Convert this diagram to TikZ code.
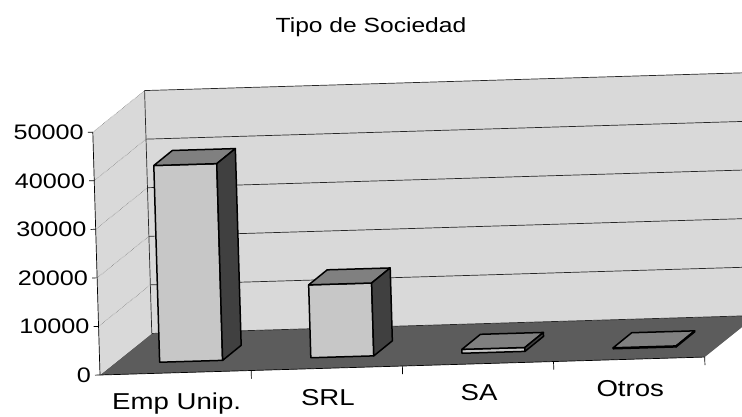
\documentclass[tikz,border=0pt]{standalone}
\usepackage{fontspec}
\setmainfont{Liberation Sans}
\definecolor{pared}{gray}{0.85}
\definecolor{piso}{gray}{0.36}
\definecolor{frente}{gray}{0.78}
\definecolor{tapa}{gray}{0.5}
\definecolor{lado}{gray}{0.25}
\newcommand{\ancho}[1]{\scalebox{1.2}[1]{#1}}
\newcommand{\barra}[2]{%
\filldraw[borde,fill=frente] (#1+15,11) rectangle (#1+78,11+#2);
\filldraw[borde,fill=tapa] (#1+15,11+#2) -- (#1+78,11+#2) -- (#1+97,25.5+#2) -- (#1+34,25.5+#2) -- cycle;
\filldraw[borde,fill=lado] (#1+78,11) -- (#1+97,25.5) -- (#1+97,25.5+#2) -- (#1+78,11+#2) -- cycle;
}

\begin{document}
\begin{tikzpicture}[x=1pt,y=1pt,
  borde/.style={draw=black,line width=1.5pt,line join=round},
  rejilla/.style={black!85,line width=0.7pt},
  rejillaizq/.style={black!55,line width=0.5pt,densely dotted},
  eje/.style={black,line width=0.7pt},
  valor/.style={font=\fontsize{21}{23}\selectfont,anchor=east,inner sep=0pt},
  categoria/.style={font=\fontsize{23}{25}\selectfont,anchor=base,inner sep=0pt}]
\useasboundingbox (0,0) rectangle (742,416);
\clip (0,0) rectangle (742,416);
\node (titulo) at (371,383) [anchor=base,font=\fontsize{20.5}{22}\selectfont]{\ancho{Tipo de Sociedad}};

\begin{scope}[shift={(100,41)},rotate=1.7]
% piso y paredes
\fill[piso] (0,0) -- (605,0) -- (658,40) -- (53,40) -- cycle;
\fill[pared] (0,0) -- (0,243) -- (53,283) -- (53,40) -- cycle;
\fill[pared] (53,40) -- (53,283) -- (658,283) -- (658,40) -- cycle;

% lineas de division
\draw[rejillaizq] (0,48.6) -- (53,88.6);
\draw[rejillaizq] (0,97.2) -- (53,137.2);
\draw[rejillaizq] (0,145.8) -- (53,185.8);
\draw[rejillaizq] (0,194.4) -- (53,234.4);
\draw[rejillaizq] (0,243) -- (53,283);
\draw[rejilla] (53,40) -- (658,40);
\draw[rejilla] (53,88.6) -- (658,88.6);
\draw[rejilla] (53,137.2) -- (658,137.2);
\draw[rejilla] (53,185.8) -- (658,185.8);
\draw[rejilla] (53,234.4) -- (658,234.4);
\draw[rejilla] (53,283) -- (658,283);
\draw[rejilla] (53,40) -- (53,283);

% barras
\barra{45}{196.8}
\barra{196.25}{72.9}
\barra{347.5}{3.9}
\barra{498.75}{1}

% ejes
\draw[eje] (0,0) -- (0,243);
\draw[eje] (0,0) -- (605,0);
\draw[eje] (-5,0) -- (0,0);
\draw[eje] (-5,48.6) -- (0,48.6);
\draw[eje] (-5,97.2) -- (0,97.2);
\draw[eje] (-5,145.8) -- (0,145.8);
\draw[eje] (-5,194.4) -- (0,194.4);
\draw[eje] (-5,243) -- (0,243);
\draw[eje] (151.25,0) -- (151.25,-8);
\draw[eje] (302.5,0) -- (302.5,-8);
\draw[eje] (453.75,0) -- (453.75,-8);
\draw[eje] (605,0) -- (605,-8);

\node (v0) at (-9,0) [valor]{\ancho{0}};
\node (v1) at (-9,48.6) [valor]{\ancho{10000}};
\node (v2) at (-9,97.2) [valor]{\ancho{20000}};
\node (v3) at (-9,145.8) [valor]{\ancho{30000}};
\node (v4) at (-9,194.4) [valor]{\ancho{40000}};
\node (v5) at (-9,243) [valor]{\ancho{50000}};

\node (emp) at (75.6,-37) [categoria]{\ancho{Emp Unip.}};
\node (srl) at (226.9,-37) [categoria]{\ancho{SRL}};
\node (sa) at (378.1,-37) [categoria]{\ancho{SA}};
\node (otros) at (529.4,-37) [categoria]{\ancho{Otros}};
\end{scope}
\end{tikzpicture}
\end{document}
